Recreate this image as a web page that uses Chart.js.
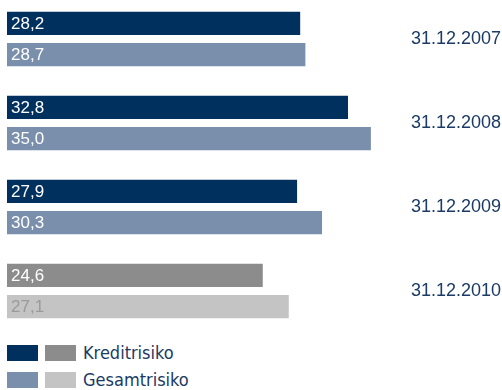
<!DOCTYPE html>
<html>
<head>
<meta charset="utf-8">
<script src="https://cdn.jsdelivr.net/npm/chart.js@4.4.1/dist/chart.umd.min.js"></script>
<style>
  html, body { margin: 0; padding: 0; background: #fff; width: 502px; height: 390px; overflow: hidden; position: relative; }
  #wrap { position: absolute; left: 0; top: -3px; width: 502px; height: 336px; }
  .leg { position: absolute; font-family: "Liberation Sans Narrow", "DejaVu Sans Condensed", sans-serif; font-size: 18px; color: #1b3a64; line-height: 18px; }
  .sw { position: absolute; width: 31px; height: 16px; }
</style>
</head>
<body>
<div id="wrap"><canvas id="c"></canvas></div>
<div class="sw" style="left:7px;top:345px;background:#00305e"></div>
<div class="sw" style="left:45px;top:345px;background:#8c8c8c"></div>
<div class="leg" style="left:83px;top:344px">Kreditrisiko</div>
<div class="sw" style="left:7px;top:372px;background:#7a8fab"></div>
<div class="sw" style="left:45px;top:372px;background:#c4c4c4"></div>
<div class="leg" style="left:83px;top:371px">Gesamtrisiko</div>
<script>
const categories = ["31.12.2007", "31.12.2008", "31.12.2009", "31.12.2010"];
const kreditrisiko = [28.2, 32.8, 27.9, 24.6];
const gesamtrisiko = [28.7, 35.0, 30.3, 27.1];
const seriesNames = ["Kreditrisiko", "Gesamtrisiko"];

const kreditColors = ["#00305e", "#00305e", "#00305e", "#8c8c8c"];
const gesamtColors = ["#7a8fab", "#7a8fab", "#7a8fab", "#c4c4c4"];
const gesamtLabelColors = ["#ffffff", "#ffffff", "#ffffff", "#9a9a9a"];
const kreditLabelColors = ["#ffffff", "#ffffff", "#ffffff", "#ffffff"];

const valueLabels = {
  id: "valueLabels",
  afterDatasetsDraw(chart) {
    const ctx = chart.ctx;
    ctx.save();
    ctx.font = '17px "Liberation Sans", sans-serif';
    ctx.textBaseline = "middle";
    ctx.textAlign = "left";
    chart.data.datasets.forEach((ds, di) => {
      const meta = chart.getDatasetMeta(di);
      meta.data.forEach((el, i) => {
        const v = ds.data[i];
        ctx.fillStyle = (di === 0 ? kreditLabelColors : gesamtLabelColors)[i];
        ctx.fillText(v.toFixed(1).replace(".", ","), chart.chartArea.left + 4, el.y + 1);
      });
    });
    ctx.restore();
  }
};

new Chart(document.getElementById("c"), {
  type: "bar",
  data: {
    labels: categories,
    datasets: [
      { label: seriesNames[0], data: kreditrisiko, backgroundColor: kreditColors, borderWidth: 0,
        categoryPercentage: 0.747, barPercentage: 0.742 },
      { label: seriesNames[1], data: gesamtrisiko, backgroundColor: gesamtColors, borderWidth: 0,
        categoryPercentage: 0.747, barPercentage: 0.742 }
    ]
  },
  options: {
    indexAxis: "y",
    responsive: true,
    maintainAspectRatio: false,
    animation: false,
    layout: { padding: { left: 7, right: 0, top: 0, bottom: 0 } },
    plugins: { legend: { display: false }, tooltip: { enabled: false } },
    scales: {
      x: { display: false, min: 0, max: 37.8 },
      y: {
        position: "right",
        grid: { display: false, drawTicks: false },
        border: { display: false },
        ticks: { padding: 11, color: "#1b3a64", font: { family: "Liberation Sans", size: 18 } },
        afterFit(scale) { scale.width = 102; scale.paddingTop = 0; scale.paddingBottom = 0; }
      }
    }
  },
  plugins: [valueLabels]
});
</script>
</body>
</html>
